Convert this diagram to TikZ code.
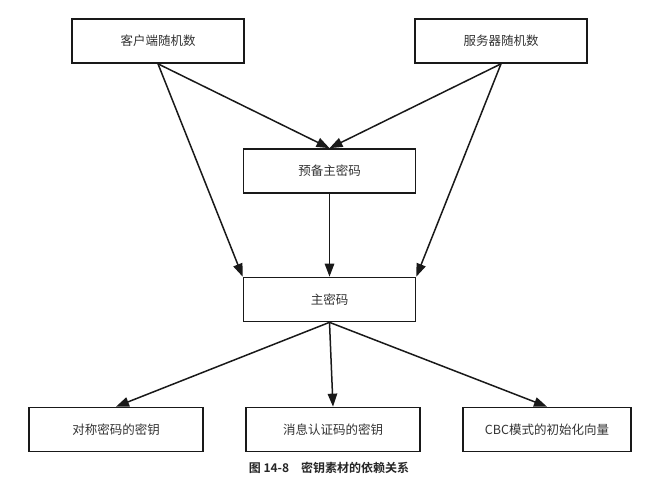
\documentclass[tikz,border=0pt]{standalone}
\usepackage{fontspec}
\setmainfont{Noto Sans CJK SC}
\newfontfamily\capfont{Noto Sans CJK SC Bold}
\usetikzlibrary{arrows.meta}
\begin{document}
\begin{tikzpicture}[x=1pt,y=-1pt,
  box/.style={draw=black!90, line width=1.7pt, minimum width=172pt, minimum height=44pt, inner sep=0pt, font=\fontsize{12.5}{14}\selectfont, text=black!80},
  arr/.style={draw=black!90, line width=1.5pt, -{Triangle[length=13pt,width=9.5pt]}}]
\useasboundingbox (0,0) rectangle (650,487);
\node[box] (A) at (158,41) {客户端随机数};
\node[box] (B) at (501,41) {服务器随机数};
\node[box] (C) at (329.5,171) {预备主密码};
\node[box] (D) at (329.5,299.5) {主密码};
\node[box, minimum width=174pt] (E) at (116,429.5) {对称密码的密钥};
\node[box, minimum width=174pt] (F) at (333,429.5) {消息认证码的密钥};
\node[box, minimum width=168pt] (G) at (547,429.5) {CBC模式的初始化向量};
\draw[arr] (A.south) -- (C.north);
\draw[arr] (B.south) -- (C.north);
\draw[arr] (A.south) -- (D.north west);
\draw[arr] (B.south) -- (D.north east);
\draw[arr] (C.south) -- (D.north);
\draw[arr] (D.south) -- (E.north);
\draw[arr] (D.south) -- (F.north);
\draw[arr] (D.south) -- (G.north);
\node[font=\capfont\fontsize{12}{14}\selectfont, text=black!85] (cap) at (329,468) {图 14-8\quad 密钥素材的依赖关系};
\end{tikzpicture}
\end{document}
